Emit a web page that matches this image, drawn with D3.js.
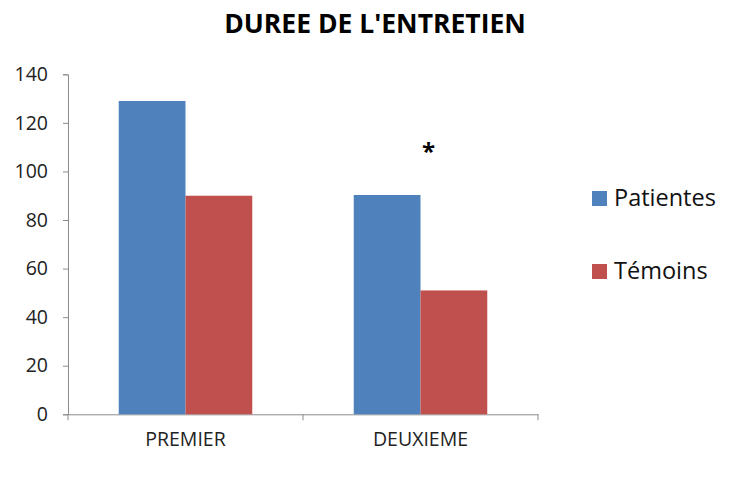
<!DOCTYPE html>
<html><head><meta charset="utf-8">
<script src="https://cdn.jsdelivr.net/npm/d3@7"></script>
<style>body{margin:0;background:#fff}svg{display:block}text{font-family:"Open Sans",sans-serif}</style>
</head><body><svg id="c" width="737" height="479"></svg>
<script>
const categories = ["PREMIER", "DEUXIEME"];
const seriesNames = ["Patientes", "Témoins"];
const patientes = [129, 90.3];
const temoins = [90, 51];
const yTicks = [0, 20, 40, 60, 80, 100, 120, 140];
const colors = ["#4f81bd", "#c0504d"];

const svg = d3.select("#c");
const m = {l: 68, r: 199, t: 74.3, b: 64.7};
const W = 737, H = 479;
const x = d3.scaleBand().domain(categories).range([m.l, W - m.r]).paddingInner(0).paddingOuter(0);
const x1 = d3.scaleBand().domain(seriesNames).range([0, x.bandwidth()]).paddingInner(0).paddingOuter(0.76);
const y = d3.scaleLinear().domain([0, 140]).range([H - m.b, m.t]);

svg.append("text").attr("x", 375).attr("y", 33).attr("text-anchor", "middle")
  .style("font-size", "26.5px").attr("font-weight", "bold").attr("fill", "#000").text("DUREE DE L'ENTRETIEN");

const yAxis = svg.append("g").attr("transform", `translate(${m.l},0)`)
  .call(d3.axisLeft(y).tickValues(yTicks).tickSize(5).tickPadding(15));
yAxis.selectAll("path,line").attr("stroke", "#8c8c8c");
yAxis.selectAll("text").style("font-size", "19.5px").attr("fill", "#222").style("font-family", "Open Sans");

const xAxis = svg.append("g").attr("transform", `translate(0,${y(0)})`)
  .call(d3.axisBottom(x).tickSize(0).tickPadding(18));
xAxis.select(".domain").attr("stroke", "#8c8c8c");
xAxis.selectAll("text").style("font-size", "19.5px").attr("fill", "#222").style("font-family", "Open Sans");
const bounds = [x.range()[0], x(categories[1]), x.range()[1]];
svg.append("g").selectAll("line").data(bounds).join("line")
  .attr("x1", d => d).attr("x2", d => d).attr("y1", y(0)).attr("y2", y(0) + 6).attr("stroke", "#8c8c8c");

const data = categories.map((c, i) => ({c, vals: [patientes[i], temoins[i]]}));
const g = svg.append("g");
data.forEach(d => {
  g.selectAll(null).data(d.vals).join("rect")
    .attr("x", (v, j) => x(d.c) + x1(seriesNames[j]))
    .attr("width", x1.bandwidth())
    .attr("y", v => y(v)).attr("height", v => y(0) - y(v))
    .attr("fill", (v, j) => colors[j]);
});

svg.append("text").attr("x", x(categories[1]) + x1("Témoins") + 8).attr("y", 160)
  .attr("text-anchor", "middle").style("font-size", "24px").attr("font-weight", "bold").text("*");

const leg = svg.append("g");
seriesNames.forEach((s, i) => {
  const yy = 191 + i * 73;
  leg.append("rect").attr("x", 592).attr("y", yy).attr("width", 15).attr("height", 15).attr("fill", colors[i]);
  leg.append("text").attr("x", 614).attr("y", yy + 15).style("font-size", "23.5px").attr("fill", "#111").text(s);
});
</script></body></html>
